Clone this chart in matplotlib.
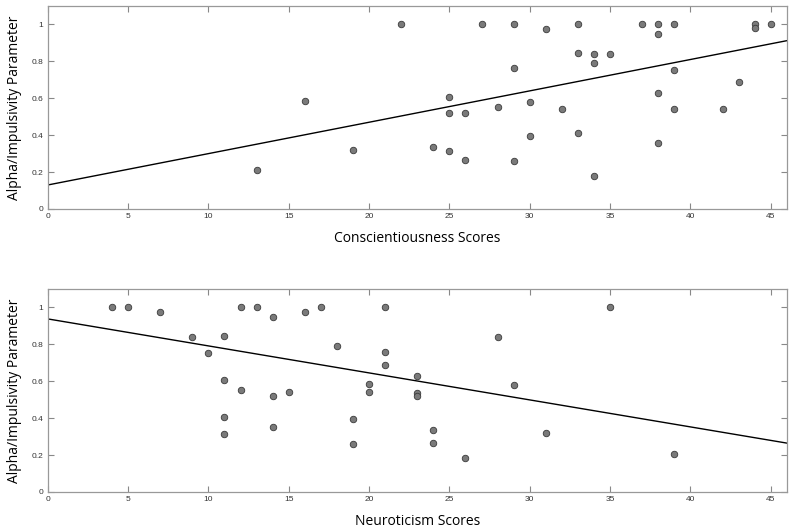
import matplotlib
matplotlib.use("Agg")
import matplotlib.pyplot as plt
import numpy as np

# Conscientiousness panel
consc_x = [13, 16, 19, 22, 27, 29, 31, 33, 37, 38, 39, 38, 44, 44, 45,
           33, 34, 35, 34, 29, 39, 43, 38, 25, 30, 28, 32, 39, 42, 25, 26,
           33, 30, 38, 24, 25, 26, 29, 34]
consc_y = [0.21, 0.585, 0.32, 1.0, 1.0, 1.0, 0.977, 1.0, 1.0, 1.0, 1.0, 0.948, 1.0, 0.98, 1.0,
           0.844, 0.842, 0.838, 0.791, 0.762, 0.751, 0.690, 0.631, 0.605, 0.580, 0.553, 0.540,
           0.542, 0.542, 0.519, 0.519, 0.410, 0.396, 0.356, 0.336, 0.313, 0.264, 0.262, 0.181]
consc_fit = [0.13, 0.912]   # line values at x = 0 and x = 46

# Neuroticism panel
neuro_x = [4, 5, 7, 9, 10, 11, 11, 11, 11, 12, 12, 13, 14, 14, 14, 15, 16, 17, 18,
           19, 19, 20, 20, 21, 21, 21, 23, 23, 23, 24, 24, 26, 28, 29, 31, 35, 39]
neuro_y = [1.0, 1.0, 0.977, 0.841, 0.751, 0.843, 0.605, 0.408, 0.313, 1.0, 0.551, 1.0,
           0.949, 0.518, 0.354, 0.540, 0.977, 1.0, 0.789, 0.397, 0.262, 0.584, 0.540,
           1.0, 0.760, 0.690, 0.630, 0.536, 0.521, 0.334, 0.265, 0.182, 0.838, 0.579,
           0.321, 1.0, 0.208]
neuro_fit = [0.938, 0.265]

fit_x = [0, 46]
x_ticks = [0, 5, 10, 15, 20, 25, 30, 35, 40, 45]
y_ticks = [0, 0.2, 0.4, 0.6, 0.8, 1.0]
y_ticklabels = ["0", "0.2", "0.4", "0.6", "0.8", "1"]

fig = plt.figure(figsize=(7.93, 5.30), dpi=100)
ax1 = fig.add_axes([0.0602, 0.6057, 0.932, 0.383])
ax2 = fig.add_axes([0.0602, 0.0717, 0.932, 0.383])

label_font = dict(family="Open Sans", fontsize=10)

for ax, xs, ys, fit, xl in [(ax1, consc_x, consc_y, consc_fit, "Conscientiousness Scores"),
                            (ax2, neuro_x, neuro_y, neuro_fit, "Neuroticism Scores")]:
    ax.plot(fit_x, fit, color="black", lw=1.0, zorder=2)
    ax.scatter(xs, ys, s=22, facecolor="#7a7a7a", edgecolor="#3a3a3a", linewidths=0.6, zorder=3)
    ax.set_xlim(0, 46)
    ax.set_ylim(0, 1.1)
    ax.set_xticks(x_ticks)
    ax.set_yticks(y_ticks)
    ax.set_yticklabels(y_ticklabels)
    ax.tick_params(direction="in", top=True, right=True, length=4, width=0.8,
                   color="#888888", labelsize=6, labelcolor="#333333", pad=3)
    for lab in ax.get_xticklabels() + ax.get_yticklabels():
        lab.set_family("Liberation Sans")
    for sp in ax.spines.values():
        sp.set_color("#999999")
        sp.set_linewidth(0.9)
    ax.set_xlabel(xl, labelpad=8, **label_font)
    ax.set_ylabel("Alpha/Impulsivity Parameter", labelpad=7, **label_font)

fig.savefig("out.png", dpi=100)
